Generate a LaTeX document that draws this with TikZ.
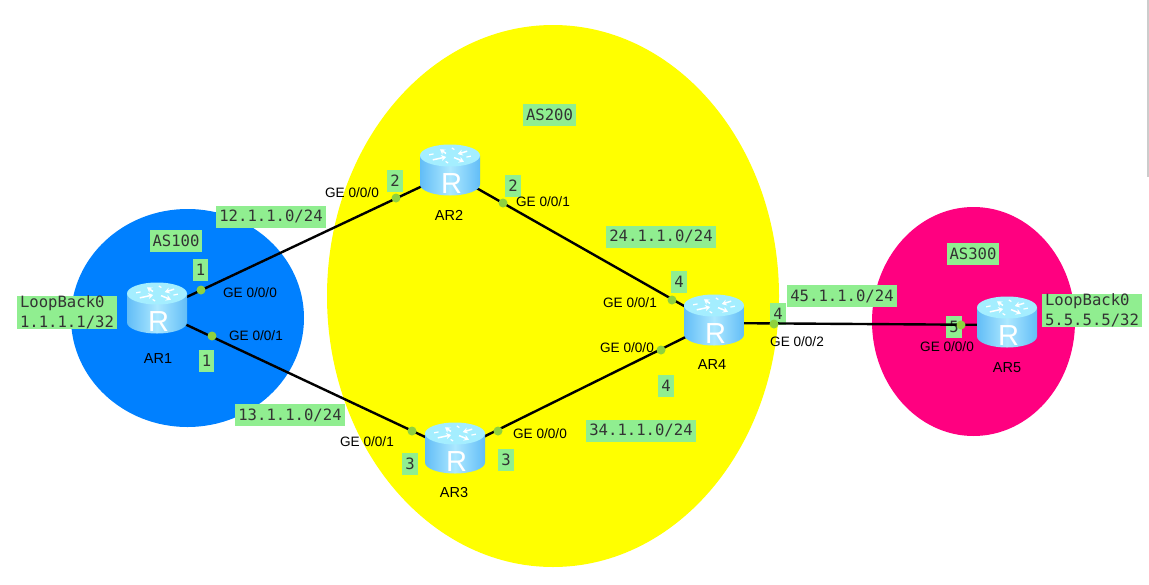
\documentclass[tikz,border=0pt]{standalone}
\usepackage{fontspec}
\setmainfont{Liberation Sans}
\newfontfamily\netfont{DejaVu Sans Mono}
\usetikzlibrary{arrows.meta}
\definecolor{asblue}{HTML}{0080FF}
\definecolor{asyellow}{HTML}{FFFF00}
\definecolor{aspink}{HTML}{FF0080}
\definecolor{boxgreen}{HTML}{90EE90}
\definecolor{portgreen}{HTML}{8FD13F}
\definecolor{bodyedge}{HTML}{62BDF7}
\definecolor{bodymid}{HTML}{ACE8FF}
\definecolor{topface}{HTML}{A4EEFF}
\tikzset{
  netbox/.style={fill=boxgreen,inner xsep=3pt,inner ysep=0pt,minimum height=22pt,font={\netfont\fontsize{15.6}{20}\selectfont},text=black!80},
  port/.style={circle,fill=portgreen,inner sep=0pt,minimum size=9pt},
  portname/.style={inner sep=0pt,font=\fontsize{13.6}{15}\selectfont},
  routername/.style={inner sep=0pt,font=\fontsize{14.5}{16}\selectfont},
  routerbox/.style={inner sep=0pt,minimum size=1pt},
  link/.style={line width=2.4pt,black}
}
\newcommand{\router}[1]{
\begin{scope}[shift={(#1.center)},yshift=3pt]
\path[left color=bodyedge,right color=bodyedge,middle color=bodymid] (-30,-14.5) -- (-30,14.5) arc[start angle=180,end angle=0,x radius=30,y radius=11] -- (30,-14.5) -- cycle;
\fill[topface] (0,-14.5) ellipse[x radius=30,y radius=11];
\foreach \ang/\dir in {35/1,125/-1,215/1,305/-1}{
\draw[white,line width=1.5pt,-{Stealth[length=5pt,width=6pt]}] ({(14+\dir*7)*cos(\ang)},{-14.5-0.36*(14+\dir*7)*sin(\ang)}) -- ({(14-\dir*7)*cos(\ang)+2},{-14.5-0.36*(14-\dir*7)*sin(\ang)});
\draw[white,line width=1.2pt] ({17*cos(\ang+40)},{-14.5-0.36*17*sin(\ang+40)}) -- ({21*cos(\ang+50)},{-14.5-0.36*21*sin(\ang+50)});
}
\node[inner sep=0pt,text=white,font=\fontsize{29}{30}\selectfont] (#1r) at (1.5,14) {R};
\end{scope}
}
\begin{document}
\begin{tikzpicture}[x=1pt,y=-1pt]
\useasboundingbox (0,0) rectangle (1149,584);
\fill[black!20] (1147,0) rectangle (1149,177);
\fill[asblue] (187.5,318) ellipse[x radius=116.5,y radius=109];
\fill[asyellow] (553,296) ellipse[x radius=226,y radius=271];
\fill[aspink] (973.5,321.5) ellipse[x radius=101.5,y radius=114.5];

\node[netbox] (as100) at (176,241) {AS100};
\node[netbox] (as200) at (549.5,115) {AS200};
\node[netbox] (as300) at (973,253.5) {AS300};
\node[netbox] (net12) at (271,216.5) {12.1.1.0/24};
\node[netbox] (net13) at (290,415) {13.1.1.0/24};
\node[netbox] (net24) at (661,236.5) {24.1.1.0/24};
\node[netbox] (net34) at (641,430.5) {34.1.1.0/24};
\node[netbox] (net45) at (842,296) {45.1.1.0/24};
\node[netbox,align=left] (loop1) at (67,312.5) {LoopBack0\\1.1.1.1/32};
\node[netbox,align=left] (loop5) at (1092,310.5) {LoopBack0\\5.5.5.5/32};
\node[netbox] (id1a) at (200.5,270) {1};
\node[netbox] (id1b) at (206.5,361) {1};
\node[netbox] (id2a) at (395,181) {2};
\node[netbox] (id2b) at (513,185.5) {2};
\node[netbox] (id3a) at (410,464) {3};
\node[netbox] (id3b) at (506,460) {3};
\node[netbox] (id4a) at (679,282) {4};
\node[netbox] (id4b) at (666,386) {4};
\node[netbox] (id4c) at (778,314) {4};
\node[netbox] (id5a) at (954,327) {5};

\node[routerbox] (ar1) at (157,311) {};
\node[routerbox] (ar2) at (450,173) {};
\node[routerbox] (ar3) at (455,451) {};
\node[routerbox] (ar4) at (714,323) {};
\node[routerbox] (ar5) at (1007,325) {};
\draw[link] (ar1)--(ar2);
\draw[link] (ar1)--(ar3);
\draw[link] (ar2)--(ar4);
\draw[link] (ar3)--(ar4);
\draw[link] (ar4)--(ar5);
\router{ar1}
\router{ar2}
\router{ar3}
\router{ar4}
\router{ar5}

\node[port] (p1a) at (201,290) {};
\node[port] (p1b) at (212,336) {};
\node[port] (p2a) at (396,198) {};
\node[port] (p2b) at (503,203) {};
\node[port] (p3a) at (412,431) {};
\node[port] (p3b) at (498,431) {};
\node[port] (p4a) at (672,300) {};
\node[port] (p4b) at (661,350) {};
\node[port] (p4c) at (774,324) {};
\node[port] (p5a) at (961,325) {};

\node[portname] (ge1a) at (250,293) {GE 0/0/0};
\node[portname] (ge1b) at (256,336) {GE 0/0/1};
\node[portname] (ge2a) at (352,193) {GE 0/0/0};
\node[portname] (ge2b) at (543,202) {GE 0/0/1};
\node[portname] (ge3a) at (367,442) {GE 0/0/1};
\node[portname] (ge3b) at (540,434) {GE 0/0/0};
\node[portname] (ge4a) at (630,303) {GE 0/0/1};
\node[portname] (ge4b) at (627,348) {GE 0/0/0};
\node[portname] (ge4c) at (797,342) {GE 0/0/2};
\node[portname] (ge5a) at (947,347) {GE 0/0/0};

\node[routername] (name1) at (158,359) {AR1};
\node[routername] (name2) at (449,215) {AR2};
\node[routername] (name3) at (454,493) {AR3};
\node[routername] (name4) at (712,365) {AR4};
\node[routername] (name5) at (1007,368) {AR5};
\end{tikzpicture}
\end{document}
